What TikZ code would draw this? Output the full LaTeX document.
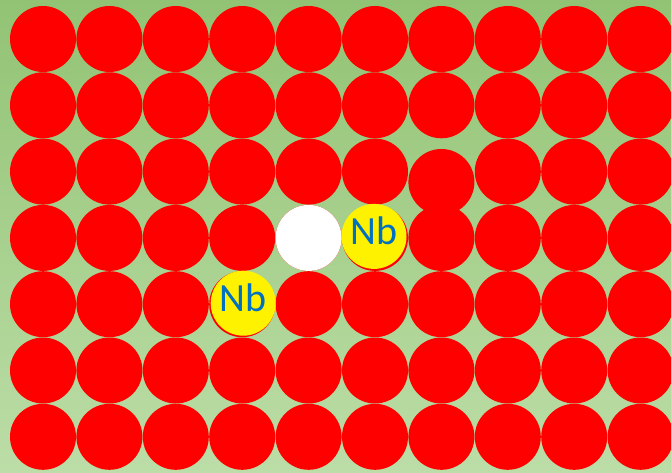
\documentclass[tikz,border=0pt]{standalone}
\usepackage{fontspec}
\newfontfamily\nbfont{Carlito}
\definecolor{bgtop}{RGB}{146,195,116}
\definecolor{bgbot}{RGB}{188,221,167}
\definecolor{nbblue}{RGB}{0,112,192}
\tikzset{
  atom/.style={circle, fill=red, draw=none, minimum size=66pt, inner sep=0pt},
  vac/.style={circle, fill=white, draw=none, minimum size=66pt, inner sep=0pt},
  nbatom/.style={circle, fill=yellow, draw=none, minimum size=65pt, inner sep=0pt,
    text depth=11pt, text=nbblue, font=\nbfont\fontsize{40}{40}\selectfont},
}
\begin{document}
\begin{tikzpicture}[x=1pt,y=-1pt]
\fill[top color=bgtop, bottom color=bgbot] (0,0) rectangle (671,473);
\useasboundingbox (0,0) rectangle (671,473);
\foreach \r in {0,...,6}{
  \foreach \c in {0,...,9}{
    \pgfmathsetmacro{\xx}{43+66.4*\c}
    \pgfmathsetmacro{\yy}{39+66.3*\r}
    \ifnum\r=2 \ifnum\c=6 \pgfmathsetmacro{\yy}{182}\fi\fi
    \node[atom] (a-\r-\c) at (\xx,\yy) {};
  }
}
\node[vac] (vacancy) at (a-3-4) {};
\node[nbatom] (nb1) at ([xshift=-1pt,yshift=1.5pt]a-3-5) {Nb};
\node[nbatom] (nb2) at ([xshift=1pt,yshift=1pt]a-4-3) {Nb};
\end{tikzpicture}
\end{document}
